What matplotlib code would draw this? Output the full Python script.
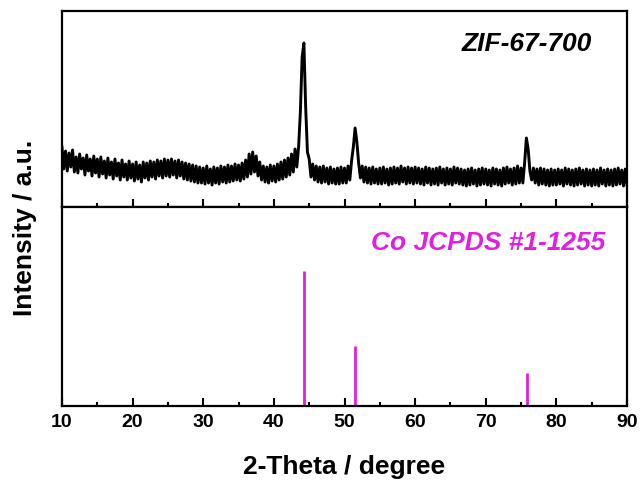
import matplotlib.pyplot as plt
import numpy as np
from matplotlib.ticker import MultipleLocator

plt.rcParams['font.family'] = ['Liberation Sans', 'DejaVu Sans']
plt.rcParams['font.weight'] = 'bold'

theta_start, theta_step = 10.0, 0.25
zif_intensity = [
    60, 38, 56, 36, 54, 40, 57, 35, 50, 34, 53, 38, 49, 32, 52, 36, 48, 31, 51, 34,
    48, 30, 50, 33, 46, 29, 49, 32, 45, 28, 48, 31, 44, 27, 47, 30, 43, 27, 46, 29,
    43, 26, 45, 28, 42, 25, 45, 29, 44, 27, 46, 30, 45, 28, 47, 31, 46, 29, 48, 31,
    47, 30, 48, 32, 46, 29, 47, 31, 45, 28, 44, 27, 43, 26, 42, 25, 41, 24, 40, 24,
    39, 23, 41, 24, 38, 22, 40, 24, 39, 23, 41, 25, 40, 24, 42, 25, 41, 26, 43, 27,
    42, 26, 44, 28, 47, 30, 53, 33, 55, 35, 51, 31, 45, 27, 41, 25, 40, 24, 42, 26,
    41, 25, 43, 27, 45, 28, 47, 30, 49, 32, 53, 35, 58, 40, 60, 95, 150, 164, 100, 55,
    48, 30, 43, 27, 41, 25, 40, 24, 41, 25, 39, 23, 40, 24, 38, 23, 39, 23, 40, 24,
    39, 24, 41, 27, 46, 60, 79, 65, 44, 29, 41, 25, 40, 24, 39, 23, 40, 24, 38, 23,
    39, 23, 40, 24, 38, 22, 39, 23, 40, 24, 39, 23, 41, 25, 39, 23, 40, 24, 39, 23,
    40, 24, 39, 23, 38, 22, 40, 24, 39, 22, 38, 23, 39, 22, 40, 24, 38, 22, 39, 23,
    38, 22, 40, 24, 39, 23, 38, 22, 37, 21, 38, 22, 39, 23, 37, 21, 38, 22, 39, 23,
    38, 22, 37, 21, 39, 23, 38, 22, 37, 21, 39, 23, 40, 24, 38, 22, 39, 23, 41, 24,
    39, 24, 44, 69, 58, 36, 27, 39, 24, 38, 22, 39, 23, 38, 22, 37, 21, 38, 22, 37,
    22, 38, 23, 37, 21, 39, 23, 38, 22, 37, 21, 38, 22, 39, 23, 37, 21, 38, 22, 37,
    21, 38, 22, 37, 21, 39, 23, 37, 21, 38, 22, 37, 21, 38, 22, 39, 23, 37, 21, 38,
    22,
]

# reference card lines
ref_theta = [44.2, 51.5, 75.9]
ref_intensity = [100, 44, 24]

magenta = '#e01fe0'

theta = theta_start + theta_step * np.arange(len(zif_intensity))

fig = plt.figure(figsize=(6.41, 4.84), dpi=100)
ax1 = fig.add_axes([0.0967, 0.5723, 0.8815, 0.4050])
ax2 = fig.add_axes([0.0967, 0.1612, 0.8815, 0.4111])

ax1.plot(theta, zif_intensity, color='black', lw=2.1)
ax1.set_ylim(0, 196)
ax1.text(0.938, 0.83, 'ZIF-67-700', transform=ax1.transAxes, ha='right', va='center',
         fontsize=19, fontstyle='italic', fontweight='bold')

ax2.vlines(ref_theta, 0, ref_intensity, color=magenta, lw=2)
ax2.set_ylim(0, 147)
ax2.text(0.961, 0.82, 'Co JCPDS #1-1255', transform=ax2.transAxes, ha='right', va='center',
         fontsize=19, fontstyle='italic', fontweight='bold', color=magenta)

for ax in (ax1, ax2):
    ax.set_xlim(10, 90)
    ax.xaxis.set_major_locator(MultipleLocator(10))
    ax.xaxis.set_minor_locator(MultipleLocator(5))
    ax.tick_params(axis='x', which='major', direction='in', length=6, width=1.5)
    ax.tick_params(axis='x', which='minor', direction='in', length=3, width=1.5)
    ax.set_yticks([])
    for s in ax.spines.values():
        s.set_linewidth(1.6)

ax1.tick_params(axis='x', labelbottom=False)
ax2.tick_params(axis='x', labelsize=14, pad=6)
for lab in ax2.get_xticklabels():
    lab.set_fontweight('bold')

ax2.set_xlabel('2-Theta / degree', fontsize=19, fontweight='bold', labelpad=17)
fig.text(0.039, 0.53, 'Intensity / a.u.', rotation=90, ha='center', va='center',
         fontsize=19, fontweight='bold')

fig.savefig('out.png', dpi=100)
